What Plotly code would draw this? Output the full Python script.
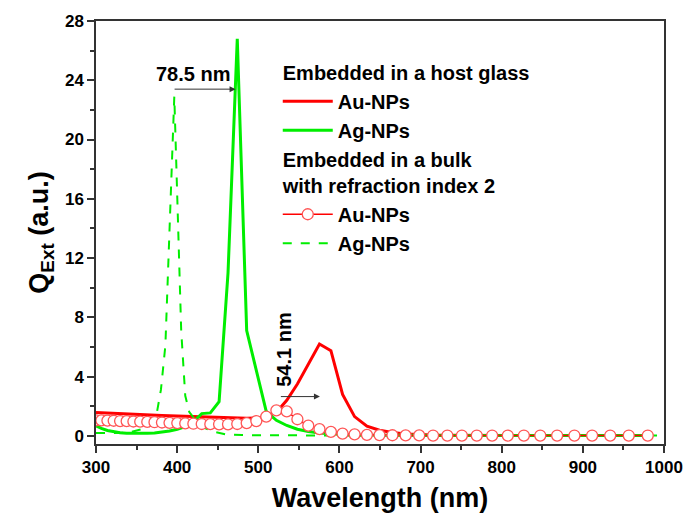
import plotly.graph_objects as go

# Wavelength grid (nm) of the computed spectra
wl = [300, 306.6, 314.1, 321.8, 329.7, 337.8, 346.1, 354.5, 363.2, 372.1,
      381.3, 390.6, 400.2, 410.0, 420.0, 430.3, 440.9, 451.7, 462.7, 474.1,
      485.7, 497.6, 509.8, 522.3, 535.1, 548.2, 561.6, 575.4, 589.5, 603.9,
      618.7, 633.9, 649.4, 665.3, 681.6, 698.3, 715.4, 733.0, 750.9, 769.3,
      788.2, 807.5, 827.3, 847.5, 868.3, 889.6, 911.4, 933.7, 956.6, 980.0]

# Embedded in a host glass
au_host = [1.57, 1.55, 1.53, 1.51, 1.49, 1.47, 1.45, 1.43, 1.41, 1.39,
           1.37, 1.35, 1.33, 1.31, 1.29, 1.27, 1.25, 1.23, 1.21, 1.20,
           1.19, 1.20, 1.30, 1.60, 2.40, 3.50, 4.80, 6.20, 5.75, 2.80,
           1.30, 0.65, 0.38, 0.22, 0.13, 0.08, 0.05, 0.04, 0.03, 0.03,
           0.03, 0.03, 0.03, 0.03, 0.03, 0.03, 0.03, 0.03, 0.03, 0.03]
ag_host = [0.68, 0.50, 0.36, 0.27, 0.21, 0.18, 0.17, 0.17, 0.18, 0.20,
           0.25, 0.33, 0.45, 0.62, 0.95, 1.50, 1.55, 2.30, 11.0, 26.8,
           7.10, 4.30, 1.65, 1.05, 0.70, 0.45, 0.30, 0.20, 0.13, 0.09,
           0.06, 0.05, 0.04, 0.03, 0.03, 0.03, 0.03, 0.03, 0.03, 0.03,
           0.03, 0.03, 0.03, 0.03, 0.03, 0.03, 0.03, 0.03, 0.03, 0.03]

# Embedded in a bulk with refraction index 2
au_bulk = [1.05, 1.04, 1.03, 1.02, 1.00, 0.99, 0.97, 0.96, 0.94, 0.92,
           0.90, 0.88, 0.86, 0.84, 0.82, 0.80, 0.79, 0.78, 0.78, 0.80,
           0.86, 1.00, 1.30, 1.72, 1.65, 1.12, 0.69, 0.45, 0.27, 0.15,
           0.10, 0.07, 0.05, 0.04, 0.03, 0.03, 0.02, 0.02, 0.02, 0.02,
           0.02, 0.02, 0.02, 0.02, 0.02, 0.02, 0.02, 0.02, 0.02, 0.02]
wl_ag_bulk = [300, 320, 340, 350, 360, 366, 374, 380, 385.5, 396.5, 405, 410,
              415, 425, 435, 445, 460, 480, 520, 600, 700, 800, 900, 1000]
ag_bulk = [0.20, 0.18, 0.22, 0.35, 0.50, 0.67, 1.25, 3.1, 6.1, 22.9, 7.1, 2.7,
           1.6, 0.9, 0.5, 0.28, 0.10, 0.05, 0.03, 0.02, 0.02, 0.02, 0.02, 0.02]

x_ticks = [300, 400, 500, 600, 700, 800, 900, 1000]
y_ticks = [0, 4, 8, 12, 16, 20, 24, 28]

RED = "#ff0000"
GREEN = "#00ee00"
FONT = "Liberation Sans, Arial, sans-serif"
LEG_FONT = dict(family=FONT, size=20, color="black", weight="bold")

fig = go.Figure()
fig.add_trace(go.Scatter(
    x=wl, y=au_host, mode="lines", name="Au-NPs",
    line=dict(color=RED, width=3), legendgroup="host", legendrank=1,
    legendgrouptitle=dict(text="Embedded in a host glass", font=LEG_FONT)))
fig.add_trace(go.Scatter(
    x=wl, y=ag_host, mode="lines", name="Ag-NPs",
    line=dict(color=GREEN, width=3), legendgroup="host", legendrank=2))
fig.add_trace(go.Scatter(
    x=wl_ag_bulk, y=ag_bulk, mode="lines", name="Ag-NPs",
    line=dict(color=GREEN, width=2, dash="dash"), legendgroup="bulk", legendrank=4))
fig.add_trace(go.Scatter(
    x=wl, y=au_bulk, mode="lines+markers", name="Au-NPs",
    line=dict(color=RED, width=1.5),
    marker=dict(symbol="circle", size=11, color="white",
                line=dict(color="#ff5555", width=1.3)),
    legendgroup="bulk", legendrank=3,
    legendgrouptitle=dict(text="Embedded in a bulk<br>with refraction index 2", font=LEG_FONT)))

axis_common = dict(
    showline=True, linecolor="#333333", linewidth=1.5, mirror=True,
    ticks="outside", ticklen=7, tickwidth=1.5, tickcolor="#333333",
    showgrid=False, zeroline=False,
    tickfont=dict(family=FONT, size=17, color="black", weight="bold"),
)

fig.update_xaxes(
    range=[300, 1000], tickvals=x_ticks, ticktext=[str(v) for v in x_ticks],
    minor=dict(ticks="outside", ticklen=4, tickwidth=1.5, tickcolor="#333333", dtick=50, tick0=300),
    title=dict(text="Wavelength (nm)", font=dict(family=FONT, size=27, color="black", weight="bold"),
               standoff=12),
    **axis_common)
fig.update_yaxes(
    range=[-0.55, 28], tickvals=y_ticks, ticktext=[str(v) for v in y_ticks],
    minor=dict(ticks="outside", ticklen=4, tickwidth=1.5, tickcolor="#333333", dtick=2, tick0=0),
    title=dict(text="Q<sub>Ext</sub> (a.u.)", font=dict(family=FONT, size=27, color="black", weight="bold"),
               standoff=8),
    **axis_common)

fig.add_annotation(x=472, y=23.4, ax=395, ay=23.4, xref="x", yref="y", axref="x", ayref="y",
                   showarrow=True, arrowhead=2, arrowsize=1.2, arrowwidth=1, arrowcolor="#333333",
                   text="")
fig.add_annotation(x=420, y=24.4, xref="x", yref="y", text="78.5 nm", showarrow=False,
                   font=dict(family=FONT, size=20, color="black", weight="bold"))
fig.add_annotation(x=576, y=2.65, ax=526, ay=2.65, xref="x", yref="y", axref="x", ayref="y",
                   showarrow=True, arrowhead=2, arrowsize=1.2, arrowwidth=1, arrowcolor="#333333",
                   text="")
fig.add_annotation(x=531.5, y=5.8, xref="x", yref="y", text="54.1 nm", showarrow=False, textangle=-90,
                   font=dict(family=FONT, size=20, color="black", weight="bold"))

fig.update_layout(
    width=695, height=526,
    margin=dict(l=96, r=26, t=20, b=82),
    paper_bgcolor="white", plot_bgcolor="white",
    font=dict(family=FONT, color="black"),
    legend=dict(x=0.32, y=0.925, xanchor="left", yanchor="top",
                bgcolor="rgba(0,0,0,0)", tracegroupgap=0,
                font=LEG_FONT, itemwidth=50),
    showlegend=True,
)

fig.write_html("out.html")
